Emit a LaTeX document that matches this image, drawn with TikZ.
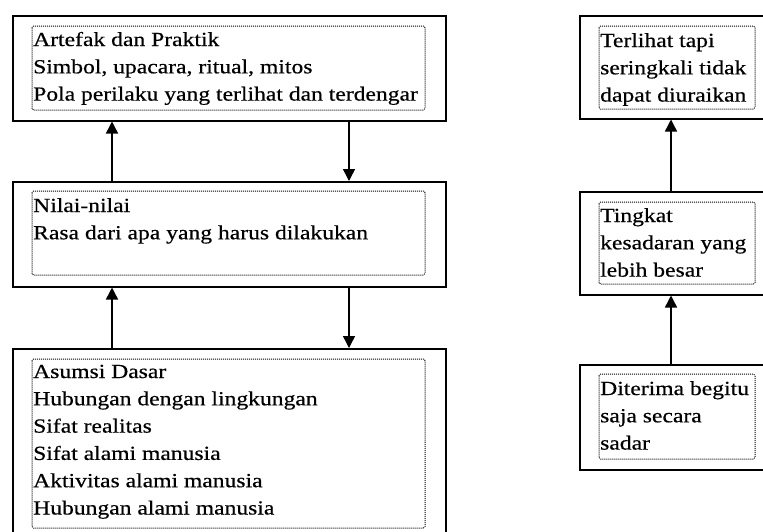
\documentclass[tikz,border=0pt]{standalone}
\usepackage{fontspec}
\setmainfont[FakeStretch=1.18,FakeBold=0.5]{Liberation Serif}
\usetikzlibrary{arrows.meta}
\tikzset{
  outerbox/.style={draw=black, line width=1.5pt, rectangle, inner sep=0pt, anchor=north west},
  innerbox/.style={draw=black, line width=1pt, dash pattern=on 1pt off 1pt, rounded corners=1.5pt},
  txt/.style={anchor=base west, inner sep=0pt, font=\fontsize{20}{27.3}\selectfont},
  arr/.style={line width=1.4pt, -{Triangle[width=12pt,length=12pt]}}
}
\newcommand{\lines}[1]{\begin{tabular}[t]{@{}l@{}}#1\end{tabular}}
\begin{document}
\begin{tikzpicture}[x=1pt,y=-1pt]
\useasboundingbox (0,0) rectangle (763,531);
\clip (0,0) rectangle (763,531);
% left column outer boxes
\node[outerbox, minimum width=433pt, minimum height=105pt] (a1) at (12,15) {};
\node[outerbox, minimum width=433pt, minimum height=105pt] (a2) at (12,181) {};
\node[outerbox, minimum width=433pt, minimum height=195pt] (a3) at (12,348) {};
% left inner dotted boxes
\draw[innerbox] (32,26) rectangle (425,110);
\draw[innerbox] (32,191) rectangle (425,275);
\draw[innerbox] (32,359) rectangle (425,528);
% left texts
\node[txt] (t1) at (33,46) {\lines{Artefak dan Praktik\\Simbol, upacara, ritual, mitos\\Pola perilaku yang terlihat dan terdengar}};
\node[txt] (t2) at (33,212) {\lines{Nilai-nilai\\Rasa dari apa yang harus dilakukan}};
\node[txt] (t3) at (33,378) {\lines{Asumsi Dasar\\Hubungan dengan lingkungan\\Sifat realitas\\Sifat alami manusia\\Aktivitas alami manusia\\Hubungan alami manusia}};
% right column outer boxes
\node[outerbox, minimum width=200pt, minimum height=103pt] (b1) at (579,15) {};
\node[outerbox, minimum width=200pt, minimum height=103pt] (b2) at (579,191) {};
\node[outerbox, minimum width=200pt, minimum height=105pt] (b3) at (579,364) {};
% right inner dotted boxes
\draw[innerbox] (599,26) rectangle (755,109);
\draw[innerbox] (599,202) rectangle (755,284);
\draw[innerbox] (599,374) rectangle (755,459);
% right texts
\node[txt] (r1) at (600,47) {\lines{Terlihat tapi\\seringkali tidak\\dapat diuraikan}};
\node[txt] (r2) at (600,222) {\lines{Tingkat\\kesadaran yang\\lebih besar}};
\node[txt] (r3) at (600,395) {\lines{Diterima begitu\\saja secara\\sadar}};
% arrow columns
\coordinate (ux) at (112,0);
\coordinate (dx) at (349,0);
\coordinate (rx) at (671,0);
\draw[arr] (a2.north -| ux) -- (a1.south -| ux);
\draw[arr] (a1.south -| dx) -- (a2.north -| dx);
\draw[arr] (a3.north -| ux) -- (a2.south -| ux);
\draw[arr] (a2.south -| dx) -- (a3.north -| dx);
\draw[arr] (b2.north -| rx) -- (b1.south -| rx);
\draw[arr] (b3.north -| rx) -- (b2.south -| rx);
\end{tikzpicture}
\end{document}
